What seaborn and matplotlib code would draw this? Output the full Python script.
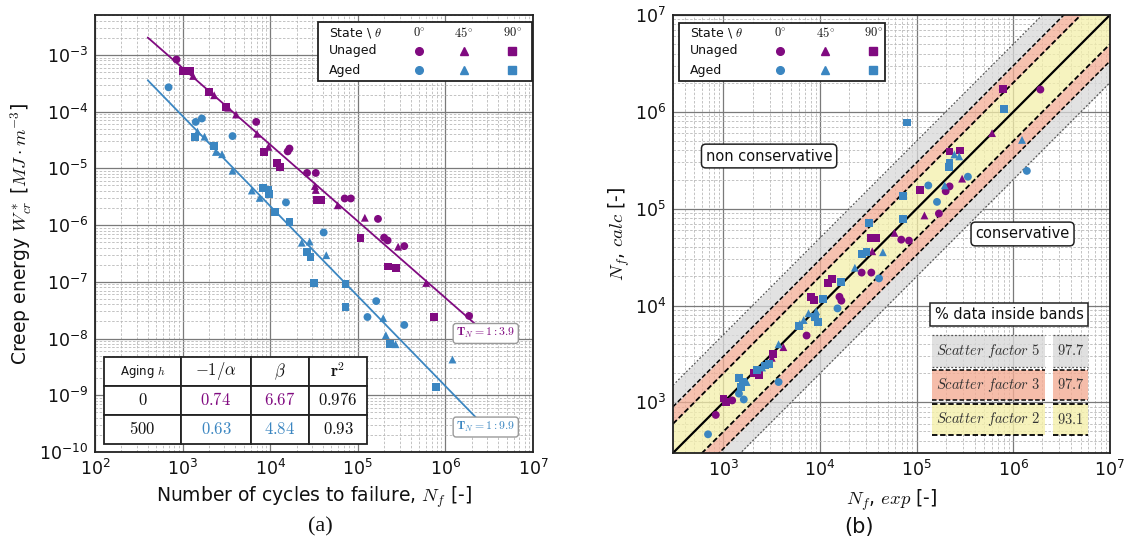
import numpy as np
import pandas as pd
import matplotlib
matplotlib.use("Agg")
import matplotlib.pyplot as plt
import seaborn as sns
from matplotlib.ticker import LogLocator, NullFormatter
from matplotlib.patches import Rectangle
from matplotlib.lines import Line2D

# ---------------------------------------------------------------- data
# (a) creep energy density vs. cycles to failure, values as log10
unaged_log_n = [2.93, 3.00, 3.08, 3.12, 3.30, 3.36, 3.50, 3.52, 3.61, 3.84,
                3.85, 3.93, 3.98, 4.22, 4.20, 4.08, 4.11, 4.42, 4.52, 4.51,
                4.52, 4.53, 4.58, 4.77, 4.85, 4.92, 5.08, 5.23, 5.03, 5.30,
                5.34, 5.46, 5.53, 5.34, 5.44, 5.78, 5.87, 6.27]
unaged_log_w = [-3.08, -3.28, -3.29, -3.37, -3.65, -3.71, -3.91, -3.93, -4.05, -4.18,
                -4.39, -4.71, -4.62, -4.65, -4.70, -4.91, -4.98, -5.08, -5.08, -5.31,
                -5.38, -5.56, -5.56, -5.65, -5.53, -5.53, -5.87, -5.89, -6.22, -6.22,
                -6.27, -6.38, -6.37, -6.73, -6.76, -7.02, -7.62, -7.60]
unaged_angle = [0, 90, 90, 45, 90, 45, 90, 45, 45, 0,
                45, 90, 45, 0, 0, 90, 90, 0, 0, 45,
                45, 90, 90, 45, 0, 0, 45, 0, 90, 0,
                0, 45, 0, 90, 90, 45, 90, 0]

aged_log_n = [2.84, 3.15, 3.22, 3.14, 3.17, 3.25, 3.57, 3.36, 3.38, 3.45,
              3.57, 3.79, 3.88, 3.92, 3.98, 3.99, 4.18, 4.05, 4.22, 4.61,
              4.36, 4.45, 4.42, 4.46, 4.64, 4.50, 4.86, 4.86, 5.21, 5.11,
              5.29, 5.53, 5.32, 5.37, 5.43, 6.08, 5.89]
aged_log_w = [-3.57, -4.18, -4.12, -4.45, -4.35, -4.44, -4.43, -4.60, -4.71, -4.75,
              -5.04, -5.39, -5.52, -5.35, -5.38, -5.45, -5.60, -5.77, -5.95, -6.13,
              -6.31, -6.29, -6.47, -6.56, -6.53, -7.02, -7.04, -7.44, -7.34, -7.62,
              -7.64, -7.76, -7.94, -8.10, -8.10, -8.37, -8.86]
aged_angle = [0, 0, 0, 90, 45, 45, 0, 90, 45, 45,
              45, 45, 45, 90, 90, 90, 0, 90, 90, 0,
              45, 45, 90, 90, 45, 90, 90, 90, 0, 0,
              45, 0, 45, 90, 45, 45, 90]

# power-law fits W = beta * N^alpha, given as -1/alpha and beta
aging_hours = [0, 500]
inv_alpha = [0.74, 0.63]
beta = [6.67, 4.84]
r_squared = ["0.976", "0.93"]
fit_n_range = [4.0e2, 2.3e6]
scatter_ratio = ["1:3.9", "1:9.9"]

# (b) calculated vs. experimental life, values as log10
unaged_log_exp = [5.89, 6.28, 5.78, 5.34, 5.45, 5.47, 5.34, 5.30, 5.03, 5.08,
                  5.23, 4.77, 4.53, 4.58, 4.84, 4.92, 4.54, 4.43, 4.53, 4.08,
                  4.12, 3.91, 3.94, 4.20, 4.22, 3.86, 3.62, 3.51, 3.50, 3.31,
                  3.37, 3.00, 3.03, 3.09, 2.92]
unaged_log_calc = [6.24, 6.23, 5.78, 5.59, 5.60, 5.31, 5.23, 5.18, 5.19, 4.93,
                   4.95, 4.75, 4.70, 4.70, 4.68, 4.67, 4.56, 4.34, 4.34, 4.23,
                   4.27, 4.09, 4.06, 4.09, 4.05, 3.69, 3.57, 3.50, 3.46, 3.30,
                   3.28, 3.04, 3.00, 3.02, 2.87]
unaged_angle_b = [90, 0, 45, 90, 90, 45, 0, 0, 90, 45,
                  0, 45, 90, 90, 0, 0, 45, 0, 0, 90,
                  90, 90, 90, 0, 0, 0, 45, 90, 45, 90,
                  90, 90, 90, 0, 0]

aged_log_exp = [5.90, 4.90, 6.09, 6.14, 5.39, 5.44, 5.34, 5.33, 5.53, 5.12,
                5.29, 4.86, 5.21, 4.86, 4.51, 4.43, 4.48, 4.65, 4.36, 4.61,
                4.22, 4.03, 4.18, 3.88, 3.96, 3.95, 3.98, 3.79, 3.83, 3.78,
                3.57, 3.47, 3.43, 3.40, 3.35, 3.57, 3.16, 3.20, 3.24, 3.18,
                3.16, 3.21, 2.84]
aged_log_calc = [6.03, 5.89, 5.71, 5.39, 5.56, 5.54, 5.47, 5.43, 5.33, 5.24,
                 5.24, 5.13, 5.07, 4.89, 4.85, 4.53, 4.55, 4.55, 4.39, 4.28,
                 4.24, 4.07, 3.97, 3.92, 3.94, 3.88, 3.83, 3.81, 3.85, 3.79,
                 3.60, 3.40, 3.38, 3.36, 3.33, 3.21, 3.25, 3.21, 3.21, 3.16,
                 3.09, 3.03, 2.67]
aged_angle_b = [90, 90, 45, 0, 45, 45, 90, 90, 0, 0,
                45, 90, 0, 90, 90, 90, 90, 45, 45, 0,
                90, 90, 0, 45, 45, 90, 90, 45, 45, 90,
                45, 90, 90, 45, 90, 0, 90, 90, 45, 90,
                0, 0, 0]

scatter_factors = [5, 3, 2]
share_inside = [97.7, 97.7, 93.1]

states = ["Unaged", "Aged"]
angles = ["0", "45", "90"]

# ---------------------------------------------------------------- style
PURPLE = "#800a80"
BLUE = "#3b86c1"
palette = {"Unaged": PURPLE, "Aged": BLUE}
marker_map = {"0": "o", "45": "^", "90": "s"}
band_colors = {5: "#d9d9d9", 3: "#f3ad95", 2: "#f4efaa"}
band_lines = {5: dict(color="#555555", ls=(0, (1.5, 1.5)), lw=0.9),
              3: dict(color="black", ls=(0, (3, 1.5)), lw=1.1),
              2: dict(color="black", ls=(0, (3, 1.5)), lw=1.3)}

sns.set_style("white")
plt.rcParams["font.family"] = ["DejaVu Sans"]
plt.rcParams["mathtext.fontset"] = "cm"
plt.rcParams["axes.unicode_minus"] = True
plt.rcParams["text.color"] = "#111111"
plt.rcParams["axes.labelcolor"] = "#111111"
plt.rcParams["xtick.color"] = "#111111"
plt.rcParams["ytick.color"] = "#111111"


def frame_log_axes(ax):
    ax.set_xscale("log")
    ax.set_yscale("log")
    for axis in (ax.xaxis, ax.yaxis):
        axis.set_major_locator(LogLocator(base=10, numticks=30))
        axis.set_minor_locator(LogLocator(base=10, subs=np.arange(2, 10), numticks=30))
        axis.set_minor_formatter(NullFormatter())
    ax.grid(True, which="major", color="#7a7a7a", lw=0.9, ls="-")
    ax.grid(True, which="minor", color="#b9b9b9", lw=0.6, ls=(0, (3, 2)))
    ax.set_axisbelow(True)
    ax.tick_params(which="both", direction="in", labelsize=12.5, pad=5)
    ax.tick_params(which="major", length=4)
    ax.tick_params(which="minor", length=2)
    for sp in ax.spines.values():
        sp.set_color("#222222")
        sp.set_linewidth(1.3)


def state_legend(ax, x0, y0, w, h, xs, ys):
    ax.add_patch(Rectangle((x0, y0), w, h, transform=ax.transAxes, fc="white",
                           ec="#222222", lw=1.3, zorder=8))
    ax.text(xs[0], ys[0], r"State \ $\theta$", transform=ax.transAxes,
            fontsize=9, va="center", ha="left", zorder=9)
    for xc, ang in zip(xs[1:], angles):
        ax.text(xc, ys[0], r"$%s^{\circ}$" % ang, transform=ax.transAxes,
                fontsize=9, va="center", ha="center", zorder=9)
    for yc, st in zip(ys[1:], states):
        ax.text(xs[0], yc, st, transform=ax.transAxes, fontsize=9,
                va="center", ha="left", zorder=9)
        for xc, ang in zip(xs[1:], angles):
            ax.add_line(Line2D([xc], [yc], transform=ax.transAxes,
                               marker=marker_map[ang], ms=5.5, color=palette[st],
                               ls="none", zorder=9))


fig = plt.figure(figsize=(11.32, 5.49), dpi=100)
ax_a = fig.add_axes([0.0839, 0.1767, 0.387, 0.796])
ax_b = fig.add_axes([0.5945, 0.1749, 0.386, 0.7978])

# ---------------------------------------------------------------- (a)
df_a = pd.concat([
    pd.DataFrame({"N": 10.0 ** np.array(unaged_log_n), "W": 10.0 ** np.array(unaged_log_w),
                  "state": "Unaged", "angle": [str(a) for a in unaged_angle]}),
    pd.DataFrame({"N": 10.0 ** np.array(aged_log_n), "W": 10.0 ** np.array(aged_log_w),
                  "state": "Aged", "angle": [str(a) for a in aged_angle]}),
], ignore_index=True)

frame_log_axes(ax_a)
for st, ia, b in zip(states, inv_alpha, beta):
    n_line = np.array(fit_n_range)
    w_line = b * n_line ** (-1.0 / ia)
    sns.lineplot(x=n_line, y=w_line, color=palette[st], lw=1.3, ax=ax_a, zorder=2)
sns.scatterplot(data=df_a, x="N", y="W", hue="state", style="angle",
                palette=palette, markers=marker_map, hue_order=states,
                style_order=angles, s=32, linewidth=0, legend=False, ax=ax_a, zorder=3)
ax_a.set_xlim(1e2, 1e7)
ax_a.set_ylim(1e-10, 10 ** -2.295)
ax_a.set_xlabel(r"Number of cycles to failure, $N_f$ [-]", fontsize=13.5)
ax_a.set_ylabel(r"Creep energy $W^*_{cr}$ [$MJ \cdot m^{-3}$]", fontsize=13.5)
ax_a.xaxis.set_label_coords(0.5, -0.075)
ax_a.yaxis.set_label_coords(-0.14, 0.5)

for st, ratio, lx, ly in zip(states, scatter_ratio, [10 ** 6.46, 10 ** 6.46],
                             [10 ** -7.91, 10 ** -9.56]):
    ax_a.text(lx, ly, r"$\mathbf{T}_N = %s$" % ratio, color=palette[st], fontsize=8.5,
              ha="center", va="center", zorder=7,
              bbox=dict(boxstyle="round,pad=0.25", fc="white", ec="#9a9a9a", lw=1.0))

state_legend(ax_a, 0.509, 0.849, 0.489, 0.135,
             [0.534, 0.740, 0.842, 0.952], [0.959, 0.918, 0.874])

# fit parameter table
cell_text = [[r"Aging $h$", r"$-1/\alpha$", r"$\beta$", r"$\mathbf{r}^2$"]]
for h, ia, b, r2 in zip(aging_hours, inv_alpha, beta, r_squared):
    cell_text.append([r"$%d$" % h, r"$%.2f$" % ia, r"$%.2f$" % b, r"$%s$" % r2])
col_w = np.array([77, 70, 58, 58], dtype=float)
tbl = ax_a.table(cellText=cell_text, colWidths=list(col_w / col_w.sum()),
                 cellLoc="center", bbox=[0.0205, 0.0183, 0.6005, 0.1991])
tbl.auto_set_font_size(False)
tbl.set_zorder(8)
for (r, c), cell in tbl.get_celld().items():
    cell.set_facecolor("white")
    cell.set_edgecolor("#222222")
    cell.set_linewidth(1.3)
    txt = cell.get_text()
    if r == 0:
        txt.set_fontsize(8.5 if c == 0 else 12)
    else:
        txt.set_fontsize(12)
        if c in (1, 2):
            txt.set_color(palette[states[r - 1]])

# ---------------------------------------------------------------- (b)
df_b = pd.concat([
    pd.DataFrame({"exp": 10.0 ** np.array(unaged_log_exp), "calc": 10.0 ** np.array(unaged_log_calc),
                  "state": "Unaged", "angle": [str(a) for a in unaged_angle_b]}),
    pd.DataFrame({"exp": 10.0 ** np.array(aged_log_exp), "calc": 10.0 ** np.array(aged_log_calc),
                  "state": "Aged", "angle": [str(a) for a in aged_angle_b]}),
], ignore_index=True)

frame_log_axes(ax_b)
lo, hi = 3e2, 1e7
xs = np.geomspace(lo, hi, 50)
inner = 1.0
for f in sorted(scatter_factors):
    ax_b.fill_between(xs, xs * inner, xs * f, color=band_colors[f], alpha=0.75, lw=0, zorder=1)
    ax_b.fill_between(xs, xs / f, xs / inner, color=band_colors[f], alpha=0.75, lw=0, zorder=1)
    inner = f
for f in scatter_factors:
    for k in (f, 1.0 / f):
        sns.lineplot(x=[lo, hi], y=[lo * k, hi * k], ax=ax_b, zorder=2, **band_lines[f])
sns.lineplot(x=[lo, hi], y=[lo, hi], color="black", lw=1.6, ax=ax_b, zorder=2)
sns.scatterplot(data=df_b, x="exp", y="calc", hue="state", style="angle",
                palette=palette, markers=marker_map, hue_order=states,
                style_order=angles, s=32, linewidth=0, legend=False, ax=ax_b, zorder=3)
ax_b.set_xlim(lo, hi)
ax_b.set_ylim(lo, hi)
ax_b.set_xlabel(r"$N_f$, $exp$ [-]", fontsize=13.5)
ax_b.set_ylabel(r"$N_f$, $calc$ [-]", fontsize=13.5)
ax_b.xaxis.set_label_coords(0.5, -0.078)
ax_b.yaxis.set_label_coords(-0.094, 0.5)

state_legend(ax_b, 0.0137, 0.849, 0.471, 0.133,
             [0.039, 0.245, 0.348, 0.458], [0.960, 0.918, 0.874])

box = dict(boxstyle="round,pad=0.3", fc="white", ec="#222222", lw=1.1)
ax_b.text(0.22, 0.678, "non conservative", transform=ax_b.transAxes, fontsize=10.5,
          ha="center", va="center", bbox=box, zorder=8)
ax_b.text(0.80, 0.50, "conservative", transform=ax_b.transAxes, fontsize=10.5,
          ha="center", va="center", bbox=box, zorder=8)
ax_b.text(0.769, 0.316, "% data inside bands", transform=ax_b.transAxes, fontsize=10.5,
          ha="center", va="center", zorder=8,
          bbox=dict(boxstyle="square,pad=0.3", fc="white", ec="#222222", lw=1.1))

# scatter-band summary rows
row_bounds = [(0.1963, 0.2694), (0.121, 0.1895), (0.0411, 0.1119)]
label_cell = (0.5927, 0.8513)
value_cell = (0.8696, 0.9497)
for f, share, (yb, yt) in zip(scatter_factors, share_inside, row_bounds):
    for (xl, xr) in (label_cell, value_cell):
        ax_b.add_patch(Rectangle((xl, yb), xr - xl, yt - yb, transform=ax_b.transAxes,
                                 fc=band_colors[f], alpha=0.8, ec="none", zorder=7))
        for yy in (yb, yt):
            ax_b.add_line(Line2D([xl, xr], [yy, yy], transform=ax_b.transAxes,
                                 zorder=8, **band_lines[f]))
    ym = 0.5 * (yb + yt)
    ax_b.text(0.5 * sum(label_cell), ym, r"$Scatter\ factor\ %d$" % f,
              transform=ax_b.transAxes, fontsize=10.5, ha="center", va="center",
              color="#333333", zorder=9)
    ax_b.text(0.5 * sum(value_cell), ym, r"$%.1f$" % share,
              transform=ax_b.transAxes, fontsize=10.5, ha="center", va="center",
              color="#333333", zorder=9)

fig.text(0.283, 0.04, "(a)", fontsize=16, family="Liberation Serif", ha="center", va="center")
fig.text(0.759, 0.04, "(b)", fontsize=15, ha="center", va="center")

fig.savefig("out.png", dpi=100)
